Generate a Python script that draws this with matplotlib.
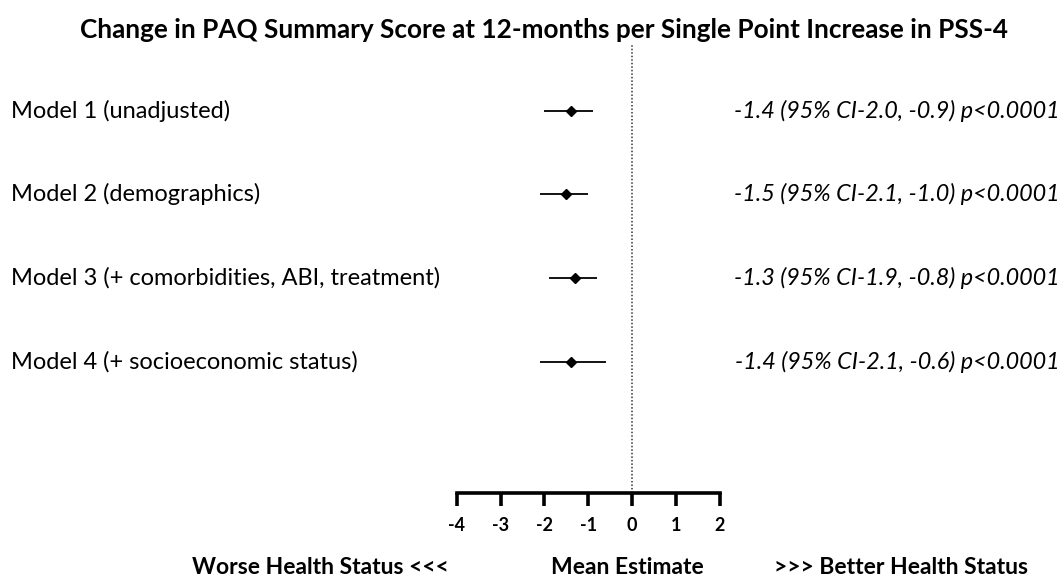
"""Forest plot: change in PAQ summary score per point increase in PSS-4."""

import matplotlib

matplotlib.use("Agg", force=True)
import matplotlib.pyplot as plt

models = [
    "Model 1 (unadjusted)",
    "Model 2 (demographics)",
    "Model 3 (+ comorbidities, ABI, treatment)",
    "Model 4 (+ socioeconomic status)",
]
estimates = [-1.4, -1.5, -1.3, -1.4]
ci_low = [-2.0, -2.1, -1.9, -2.1]
ci_high = [-0.9, -1.0, -0.8, -0.6]
p_values = ["p<0.0001", "p<0.0001", "p<0.0001", "p<0.0001"]
x_ticks = [-4, -3, -2, -1, 0, 1, 2]

W, H = 1064, 581
plt.rcParams["font.family"] = ["Lato", "DejaVu Sans"]

fig = plt.figure(figsize=(W / 100, H / 100), dpi=100)


def px(x, y):
    return x / W, 1 - y / H


# axes placed so that -4..2 maps to the drawn scale
left, right, top, bottom = 456.7, 720.0, 45.0, 493.0
ax = fig.add_axes([left / W, 1 - bottom / H, (right - left) / W, (bottom - top) / H])
ax.set_xlim(-4, 2)
ax.set_ylim(4.567, -0.785)

rows = list(range(len(models)))
for i in rows:
    ax.plot([ci_low[i], ci_high[i]], [i, i], color="black", lw=1.3, solid_capstyle="butt")
ax.plot(estimates, rows, linestyle="none", marker="D", ms=5.5, color="black")
ax.axvline(0, color="#333333", lw=1.1, linestyle=(0, (1, 1.3)))

for side in ["top", "left", "right"]:
    ax.spines[side].set_visible(False)
ax.spines["bottom"].set_linewidth(2.6)
ax.set_yticks([])
ax.set_xticks(x_ticks)
ax.set_xticklabels([str(t) for t in x_ticks], fontweight="bold", fontsize=13)
ax.tick_params(axis="x", direction="out", length=9, width=2.6, pad=8)
ax.patch.set_alpha(0)

# title
fig.text(*px(544, 30), "Change in PAQ Summary Score at 12-months per Single Point Increase in PSS-4",
         ha="center", va="center", fontsize=18.8, fontweight="bold")

# row labels and estimates, aligned with data rows
for i, name in enumerate(models):
    y_pix = 110.7 + i * 83.7
    fig.text(*px(11, y_pix), name, ha="left", va="center", fontsize=17)
    txt = f"{estimates[i]:.1f} (95% CI{ci_low[i]:.1f}, {ci_high[i]:.1f}) {p_values[i]}"
    fig.text(*px(1060, y_pix), txt, ha="right", va="center", fontsize=16.8, style="italic")

# bottom direction labels
fig.text(*px(320, 568), "Worse Health Status <<<", ha="center", va="center", fontsize=16.5, fontweight="bold")
fig.text(*px(627, 568), "Mean Estimate", ha="center", va="center", fontsize=16.5, fontweight="bold")
fig.text(*px(901, 568), ">>> Better Health Status", ha="center", va="center", fontsize=16.5, fontweight="bold")

fig.savefig("out.png", dpi=100)
plt.close(fig)
